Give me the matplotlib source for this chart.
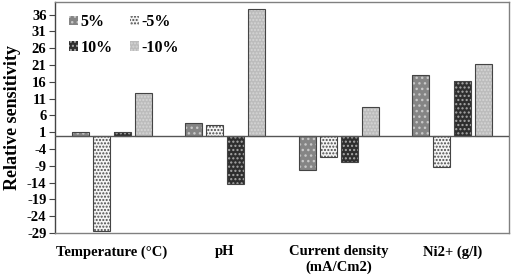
import numpy as np
import matplotlib.pyplot as plt

plt.rcParams['font.family'] = ['Liberation Serif', 'DejaVu Serif']
plt.rcParams['font.weight'] = 'bold'
plt.rcParams['axes.unicode_minus'] = False
plt.rcParams['hatch.linewidth'] = 1.0

categories = ["Temperature (°C)", "pH", "Current density\n(mA/Cm2)", "Ni2+ (g/l)"]
series = ["5%", "-5%", "10%", "-10%"]
p5 = [1.0, 3.8, -10.3, 18.1]
m5 = [-28.4, 3.1, -6.5, -9.3]
p10 = [1.1, -14.5, -8.0, 16.2]
m10 = [12.6, 37.7, 8.6, 21.3]
yticks = list(range(-29, 37, 5))

faces = ['#858585', '#f4f4f4', '#2e2e2e', '#bcbcbc']
hatch_cols = ['#c8c8c8', '#4a4a4a', '#a8a8a8', '#d6d6d6']
hatches = ['...', '.....', '....', '.....']

fig = plt.figure(figsize=(5.12, 2.76), dpi=100)
ax = fig.add_axes([0.107, 0.156, 0.887, 0.837])

x = np.arange(len(categories))
w = 0.15
step = 0.185
handles = []
for i, vals in enumerate([p5, m5, p10, m10]):
    xs = x + (i - 1.5) * step
    h = ax.bar(xs, vals, w, color=faces[i], edgecolor=hatch_cols[i], hatch=hatches[i],
               linewidth=0, label=series[i], zorder=2)
    ax.bar(xs, vals, w, fill=False, edgecolor='#444444', linewidth=0.8, zorder=3)
    handles.append(h)

ax.axhline(0, color='#555555', linewidth=1.0, zorder=4)
ax.set_xlim(-0.5, 3.5)
ax.set_ylim(-29, 39.8)
ax.set_yticks(yticks)
ax.set_xticks(x)
ax.set_xticklabels(categories, fontsize=10.5, fontweight='bold')
ax.tick_params(axis='x', length=0, pad=9)
ax.tick_params(axis='y', length=4, labelsize=10.5, pad=2, color='#444444')
for s in ax.spines.values():
    s.set_color('#808080')
    s.set_linewidth(1.0)
ax.spines['left'].set_color('#444444')
ax.set_ylabel("Relative sensitivity", fontsize=13, fontweight='bold', labelpad=4)

# legend rows: 5%, -5% / 10%, -10%
order = [0, 2, 1, 3]
ax.legend([handles[k] for k in order], [series[k] for k in order], ncol=2,
          loc='upper left', bbox_to_anchor=(0.0, 1.01), frameon=False,
          handlelength=0.55, handleheight=0.55, handletextpad=0.15,
          columnspacing=1.1, labelspacing=0.6, prop={'weight': 'bold', 'size': 11.5})

fig.savefig('out.png', dpi=100)
